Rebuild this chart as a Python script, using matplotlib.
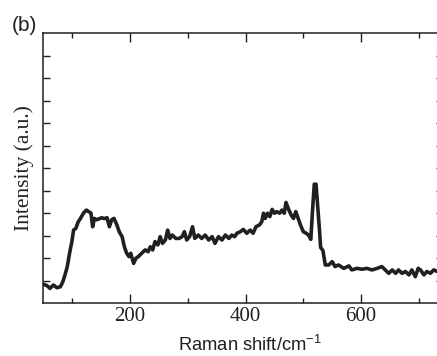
"""Raman spectrum, panel (b)."""

import matplotlib

matplotlib.use("Agg")
import matplotlib.pyplot as plt

# Raman shift (cm^-1) and intensity (a.u.)
raman_shift = [
    50, 56, 61, 67, 73, 79, 83, 87, 91, 95, 99, 102, 106, 110, 114, 119,
    124, 128, 132, 135, 138, 142, 147, 151, 155, 160, 164, 168, 172, 177,
    181, 186, 190, 194, 198, 201, 206, 210, 214, 220, 226, 231, 235, 239,
    243, 248, 252, 256, 261, 265, 269, 273, 279, 285, 290, 294, 298, 303,
    308, 312, 318, 324, 330, 336, 342, 347, 353, 359, 365, 371, 376, 381,
    385, 391, 396, 402, 408, 413, 418, 424, 428, 431, 434, 438, 442, 446,
    450, 454, 459, 463, 467, 470, 475, 479, 483, 487, 491, 495, 500, 505,
    509, 513, 516, 519, 522, 525, 528, 530, 534, 538, 544, 550, 555, 561,
    570, 579, 584, 593, 602, 610, 619, 628, 636, 642, 648, 654, 660, 665,
    671, 677, 683, 688, 694, 699, 703, 709, 714, 720, 726, 732, 745,
]
intensity = [
    0.83, 0.77, 0.65, 0.80, 0.68, 0.72, 0.92, 1.24, 1.61, 2.21, 2.73, 3.24,
    3.32, 3.61, 3.76, 3.99, 4.13, 4.06, 4.00, 3.39, 3.76, 3.70, 3.75, 3.79,
    3.75, 3.79, 3.39, 3.70, 3.76, 3.47, 3.17, 2.95, 2.50, 2.21, 2.06, 2.21,
    1.76, 1.99, 2.06, 2.21, 2.36, 2.28, 2.50, 2.36, 2.73, 2.58, 2.95, 2.65,
    2.80, 3.24, 2.87, 3.02, 2.87, 2.87, 2.95, 3.17, 2.80, 2.95, 3.39, 2.87,
    3.02, 2.87, 3.02, 2.80, 2.95, 2.65, 2.95, 2.80, 3.02, 2.87, 3.02, 2.95,
    3.10, 3.17, 3.27, 3.10, 3.24, 3.10, 3.39, 3.47, 3.61, 3.99, 3.76, 3.99,
    3.84, 4.16, 3.99, 4.06, 3.99, 4.13, 3.99, 4.47, 4.13, 3.91, 3.76, 4.06,
    3.76, 3.47, 3.17, 3.10, 3.02, 2.83, 4.13, 5.28, 5.28, 4.28, 3.24, 2.47,
    2.33, 1.69, 1.69, 1.84, 1.62, 1.69, 1.54, 1.65, 1.47, 1.54, 1.50, 1.54,
    1.47, 1.54, 1.62, 1.47, 1.32, 1.47, 1.32, 1.47, 1.32, 1.40, 1.25, 1.47,
    1.17, 1.54, 1.47, 1.25, 1.40, 1.32, 1.47, 1.40, 1.40,
]

x_major = [200, 400, 600]
x_minor = [100, 300, 500, 700]
y_ticks = list(range(1, 12))


def main() -> None:
    plt.rcParams["font.family"] = ["Liberation Serif", "DejaVu Serif"]

    fig = plt.figure(figsize=(4.37, 3.56), dpi=100)
    # right spine sits just outside the picture, as in the cropped reference
    ax = fig.add_axes([43 / 437, 53 / 356, 400 / 437, 270 / 356])

    ax.plot(raman_shift, intensity, color="#231f20", linewidth=2.6,
            solid_joinstyle="round")

    ax.set_xlim(49, 742)
    ax.set_ylim(0, 12)
    ax.set_xticks(x_major)
    ax.set_xticks(x_minor, minor=True)
    ax.set_yticks(y_ticks)
    ax.set_yticklabels([])

    for side in ax.spines.values():
        side.set_linewidth(1.1)
        side.set_color("#231f20")

    ax.tick_params(axis="both", which="both", direction="in",
                   top=True, right=True, color="#231f20", width=1.0)
    ax.tick_params(axis="x", which="major", length=6.5, pad=3,
                   labelsize=15, labelcolor="#231f20")
    ax.tick_params(axis="x", which="minor", length=3.5)
    ax.tick_params(axis="y", which="major", length=5.3)

    ax.set_ylabel("Intensity (a.u.)", fontsize=15.5, color="#231f20",
                  labelpad=3)

    fig.text(250 / 437, 5 / 356, r"Raman shift/cm$^{\mathregular{-1}}$",
             ha="center", va="baseline", fontsize=13.2,
             family=["Liberation Sans", "DejaVu Sans"], color="#231f20")
    fig.text(12 / 437, 1 - 31 / 356, "(b)", ha="left", va="baseline",
             fontsize=15, family=["Liberation Sans", "DejaVu Sans"],
             color="#231f20")

    fig.savefig("out.png", dpi=100)
    plt.close(fig)


if __name__ == "__main__":
    main()
